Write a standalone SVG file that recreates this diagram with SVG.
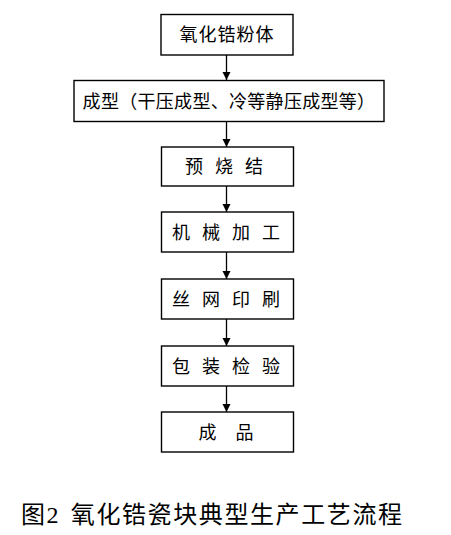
<svg xmlns="http://www.w3.org/2000/svg" width="451" height="535" viewBox="0 0 451 535">
<defs>
<marker id="ah" markerWidth="8" markerHeight="10" refX="8" refY="4" orient="auto" markerUnits="userSpaceOnUse">
<path d="M0,0 L8,4 L0,8 Z" fill="#000"/>
</marker>
<style>
.box{fill:#fff;stroke:#000;stroke-width:1.4}
.t{font-family:"Noto Sans CJK SC","Noto Sans CJK JP",sans-serif;font-size:18px;fill:#000;text-anchor:middle}
.sp{word-spacing:8px}
.cap{font-family:"Liberation Serif","Noto Sans CJK SC",serif;font-size:24px;fill:#000;letter-spacing:1.6px;word-spacing:3px}
.c{stroke:#000;stroke-width:1.3;fill:none}
</style>
</defs>
<rect width="451" height="535" fill="#fff"/>
<g id="connectors">
<line class="c" x1="226.5" y1="55" x2="226.5" y2="80" marker-end="url(#ah)"/>
<line class="c" x1="226.5" y1="122" x2="226.5" y2="147" marker-end="url(#ah)"/>
<line class="c" x1="226.5" y1="186" x2="226.5" y2="212" marker-end="url(#ah)"/>
<line class="c" x1="226.5" y1="252" x2="226.5" y2="279" marker-end="url(#ah)"/>
<line class="c" x1="226.5" y1="319" x2="226.5" y2="346" marker-end="url(#ah)"/>
<line class="c" x1="226.5" y1="386" x2="226.5" y2="412" marker-end="url(#ah)"/>
</g>
<g id="n1">
<rect class="box" x="161" y="14.5" width="132" height="40.5"/>
<text class="t" x="227" y="41" style="letter-spacing:1px">氧化锆粉体</text>
</g>
<g id="n2">
<rect class="box" x="74" y="80.5" width="310" height="41"/>
<text class="t" x="229" y="107.5" style="letter-spacing:0.3px">成型（干压成型、冷等静压成型等）</text>
</g>
<g id="n3">
<rect class="box" x="161.5" y="147" width="132" height="39"/>
<text class="t sp" x="224" y="173">预 烧 结</text>
</g>
<g id="n4">
<rect class="box" x="161.5" y="212" width="132" height="40"/>
<text class="t sp" x="226" y="238.5">机 械 加 工</text>
</g>
<g id="n5">
<rect class="box" x="161.5" y="279" width="132" height="40"/>
<text class="t sp" x="226" y="305.5">丝 网 印 刷</text>
</g>
<g id="n6">
<rect class="box" x="161.5" y="346" width="132" height="40"/>
<text class="t sp" x="226" y="372.5">包 装 检 验</text>
</g>
<g id="n7">
<rect class="box" x="161.5" y="412" width="132" height="40"/>
<text class="t" x="226" y="438.5" style="word-spacing:15px">成 品</text>
</g>
<text class="cap" x="21" y="523">图2 氧化锆瓷块典型生产工艺流程</text>
</svg>
